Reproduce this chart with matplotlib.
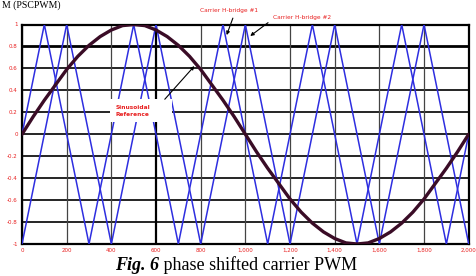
import matplotlib
matplotlib.use("Agg")
import matplotlib.pyplot as plt

# ---- data ----
carrier1_x = [0, 100, 300, 500, 700, 900, 1100, 1300, 1500, 1700, 1900, 2000]
carrier1_y = [0, 1, -1, 1, -1, 1, -1, 1, -1, 1, -1, 0]
carrier2_x = [0, 200, 400, 600, 800, 1000, 1200, 1400, 1600, 1800, 2000]
carrier2_y = [-1, 1, -1, 1, -1, 1, -1, 1, -1, 1, -1]
ref_x = list(range(0, 2001, 50))
ref_y = [0.00, 0.16, 0.31, 0.45, 0.59, 0.71, 0.81, 0.89, 0.95, 0.99, 1.00,
         0.99, 0.95, 0.89, 0.81, 0.71, 0.59, 0.45, 0.31, 0.16, 0.00,
         -0.16, -0.31, -0.45, -0.59, -0.71, -0.81, -0.89, -0.95, -0.99, -1.00,
         -0.99, -0.95, -0.89, -0.81, -0.71, -0.59, -0.45, -0.31, -0.16, 0.00]
x_ticks = [0, 200, 400, 600, 800, 1000, 1200, 1400, 1600, 1800, 2000]
x_labels = ["0", "200", "400", "600", "800", "1,000", "1,200", "1,400", "1,600", "1,800", "2,000"]
y_ticks = [1, 0.8, 0.6, 0.4, 0.2, 0, -0.2, -0.4, -0.6, -0.8, -1]
y_labels = ["1", "0.8", "0.6", "0.4", "0.2", "0", "-0.2", "-0.4", "-0.6", "-0.8", "-1"]

W, H = 477, 276
fig = plt.figure(figsize=(W / 100, H / 100), dpi=100)
L, R, T, B = 22, 468.7, 24.5, 244
ax = fig.add_axes([L / W, (H - B) / H, (R - L) / W, (B - T) / H])
ax.set_xlim(0, 2000)
ax.set_ylim(-1, 1)

# grid
for yv in y_ticks:
    ax.axhline(yv, color="black", lw=2.0 if yv == 0.8 else 1.2, zorder=1)
for xv in x_ticks:
    ax.axvline(xv, color="black" if xv == 600 else "#444444",
               lw=1.6 if xv == 600 else 0.9, zorder=1)

blue = "#2e2ee0"
ax.plot(carrier1_x, carrier1_y, color=blue, lw=1.1, zorder=3)
ax.plot(carrier2_x, carrier2_y, color=blue, lw=1.1, zorder=3)
ax.plot(ref_x, ref_y, color="#3a0c26", lw=2.4, zorder=4, solid_capstyle="round")

for s in ax.spines.values():
    s.set_linewidth(1.6)
    s.set_color("black")

ax.set_xticks(x_ticks)
ax.set_xticklabels(x_labels)
ax.set_yticks(y_ticks)
ax.set_yticklabels(y_labels)
ax.tick_params(length=0, labelsize=4, labelcolor="#e82020", pad=3)

red = "#e82020"
ap = dict(arrowstyle="-|>", color="black", lw=0.8, mutation_scale=5)
ax.annotate("Carrier H-bridge #1", xy=(912, 0.88), xytext=(927, 1.13),
            ha="center", va="center", fontsize=4.2, color=red,
            arrowprops=dict(ap, relpos=(0.6, 0.0)), annotation_clip=False)
ax.annotate("Carrier H-bridge #2", xy=(1012, 0.88), xytext=(1124, 1.06),
            ha="left", va="center", fontsize=4.2, color=red,
            arrowprops=dict(ap, relpos=(0.0, 0.3)), annotation_clip=False)

# white box for sinusoidal reference label
ax.fill_between([394, 672], 0.11, 0.32, color="white", zorder=5, lw=0)
ax.annotate("", xy=(780, 0.64), xytext=(631, 0.30),
            arrowprops=ap, zorder=6)
ax.text(420, 0.21, "Sinusoidal\nReference", ha="left", va="center",
        fontsize=4.2, color=red, zorder=6, linespacing=1.5, fontweight="bold")

# caption
base_y = 1 - 270 / H
t1 = fig.text(115 / W, base_y, "Fig. 6", fontsize=13, fontweight="bold",
              fontstyle="italic", family="Liberation Serif", va="baseline", ha="left")
fig.canvas.draw()
ext = t1.get_window_extent(fig.canvas.get_renderer())
fig.text(ext.x1 / W, base_y, " phase shifted carrier PWM", fontsize=13,
         family="Liberation Serif", va="baseline", ha="left")
# header text (partially visible in the reference)
fig.text(0.004, 1 - 8 / H, "M (PSCPWM)", fontsize=7, family="Liberation Serif",
         va="baseline", ha="left")

fig.savefig("out.png", dpi=100)
